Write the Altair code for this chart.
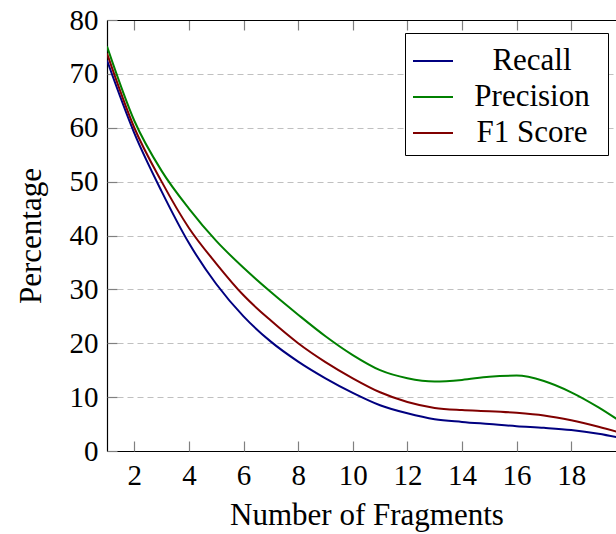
import altair as alt
import pandas as pd

# Evaluation results by number of fragments
fragments = list(range(1, 21))
recall = [72.5, 59.0, 48.2, 38.6, 31.0, 25.0, 20.3, 16.6, 13.5, 10.8,
          8.5, 7.0, 5.9, 5.4, 5.0, 4.6, 4.3, 3.9, 3.2, 2.2]
precision = [75.1, 61.3, 52.0, 45.0, 39.0, 34.0, 29.5, 25.3, 21.3, 17.8,
             15.0, 13.5, 12.9, 13.2, 13.8, 14.0, 13.0, 10.9, 8.1, 4.8]
f1_score = [73.8, 60.0, 50.0, 41.4, 34.8, 28.9, 24.2, 20.0, 16.5, 13.5,
            10.9, 9.1, 8.0, 7.6, 7.4, 7.1, 6.6, 5.7, 4.5, 3.1]

series_names = ["Recall", "Precision", "F1 Score"]
series_colors = ["#000080", "#008000", "#800000"]
y_ticks = [0, 10, 20, 30, 40, 50, 60, 70, 80]
x_ticks = [2, 4, 6, 8, 10, 12, 14, 16, 18]

rows = []
for name, values in zip(series_names, [recall, precision, f1_score]):
    for f, v in zip(fragments, values):
        rows.append({"fragments": f, "value": v, "metric": name})
df = pd.DataFrame(rows)

FONT = "'Liberation Serif', 'DejaVu Serif', serif"
FS = 29       # tick labels
FS_TEXT = 31  # axis titles and legend labels
W, H = 509, 431

xscale = alt.Scale(domain=[1, 19.64], nice=False, zero=False)
yscale = alt.Scale(domain=[0, 80], nice=False)

color = alt.Color(
    "metric:N",
    scale=alt.Scale(domain=series_names, range=series_colors),
    sort=series_names,
    # transparent spacer title on the right widens the legend box
    legend=alt.Legend(title=".", titleOrient="right", titleOpacity=0,
                      titlePadding=2, titleFontSize=FS_TEXT),
)

# main lines with labelled axes and dashed horizontal grid
lines = alt.Chart(df).mark_line(clip=True, strokeWidth=2, interpolate="monotone").encode(
    x=alt.X("fragments:Q", scale=xscale, axis=alt.Axis(
        values=x_ticks, title="Number of Fragments", ticks=False, grid=False,
        domainColor="black", domainWidth=1.2, labelPadding=10, titlePadding=10,
        titleX=259.5, labelFlush=False)),
    y=alt.Y("value:Q", scale=yscale, axis=alt.Axis(
        values=y_ticks, title="Percentage", ticks=False, grid=True,
        gridColor="#c0c0c0", gridDash=[6, 4], gridWidth=1.2,
        domainColor="black", domainWidth=1.2, labelPadding=9, titlePadding=22,
        labelFlush=False)),
    color=color,
)

# inward ticks along the bottom and left edges
inner_ticks = alt.Chart(df).mark_point(opacity=0).encode(
    x=alt.X("fragments:Q", scale=xscale, axis=alt.Axis(
        orient="top", offset=-H, values=x_ticks, labels=False, domain=False,
        grid=False, title=None, tickSize=10, tickColor="#808080", tickWidth=1.2)),
    y=alt.Y("value:Q", scale=yscale, axis=alt.Axis(
        orient="right", offset=-W, values=y_ticks, labels=False, domain=False,
        grid=False, title=None, tickSize=10, tickColor="#808080", tickWidth=1.2)),
)

# top border with downward ticks
top_border = alt.Chart(df).mark_point(opacity=0).encode(
    x=alt.X("fragments:Q", scale=xscale, axis=alt.Axis(
        orient="bottom", offset=-H, values=x_ticks, labels=False, domain=True,
        domainColor="black", domainWidth=1.2, grid=False, title=None,
        tickSize=10, tickColor="#808080", tickWidth=1.2)),
    y=alt.Y("value:Q", scale=yscale, axis=None),
)

chart = alt.layer(lines, inner_ticks, top_border).resolve_axis(
    x="independent", y="independent"
).properties(
    width=W, height=H,
    autosize=alt.AutoSizeParams(type="none"),
    padding={"left": 107, "top": 20, "right": 0, "bottom": 83},
).configure_view(stroke=None).configure_axis(
    labelFont=FONT, labelFontSize=FS, labelColor="black",
    titleFont=FONT, titleFontSize=FS_TEXT, titleColor="black", titleFontWeight="normal",
).configure_legend(
    orient="none", legendX=298, legendY=13,
    strokeColor="black", fillColor="white", padding=7, cornerRadius=0,
    labelFont=FONT, labelFontSize=FS_TEXT, labelColor="black",
    labelAlign="center", labelOffset=78,
    symbolType="stroke", symbolSize=1600, symbolStrokeWidth=2,
    rowPadding=-2.5,
)

chart.save("out.html", embed_options={"renderer": "svg", "actions": False})
